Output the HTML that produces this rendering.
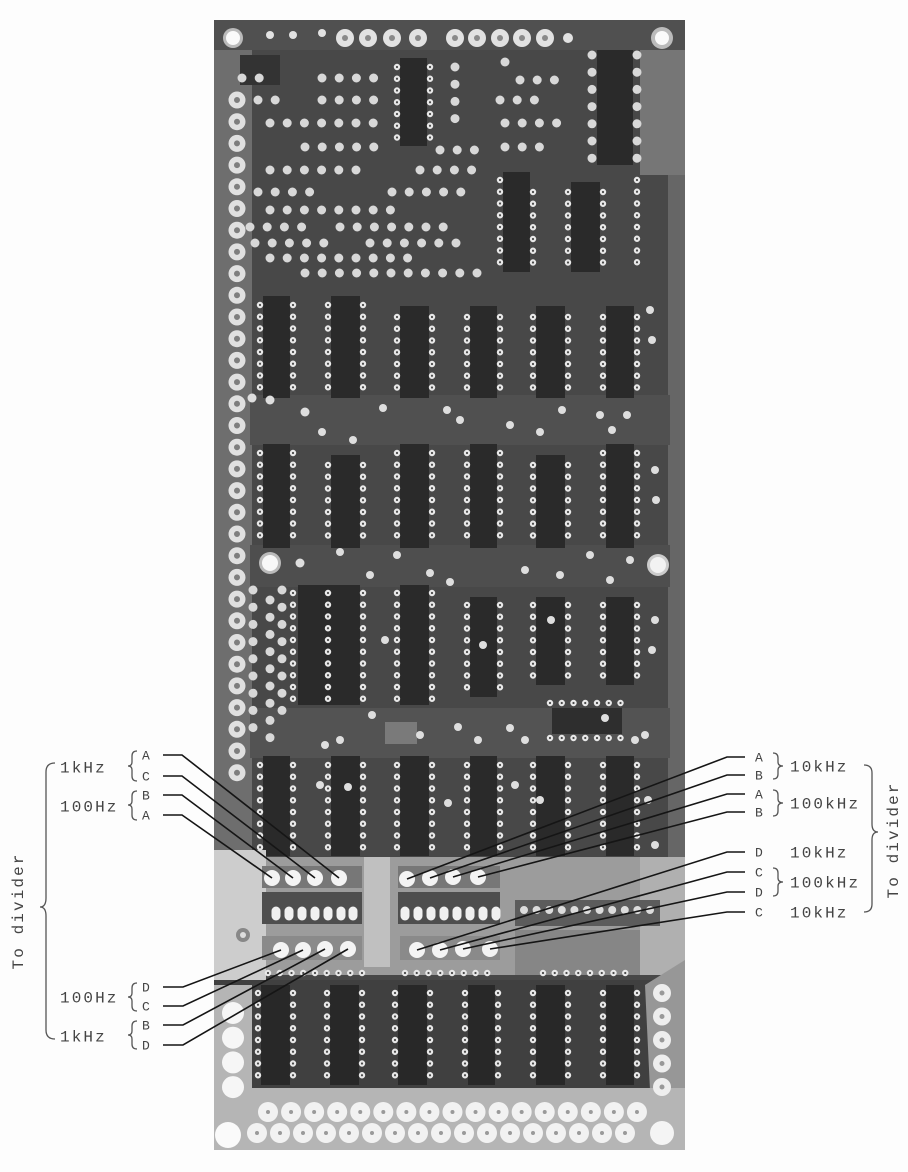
<!DOCTYPE html>
<html><head><meta charset="utf-8"><style>
html,body{margin:0;padding:0;background:#fdfdfd;}
svg{display:block;}
.t{font-family:"Liberation Mono",monospace;font-size:16px;letter-spacing:2.1px;fill:#444;}
.l{font-family:"Liberation Mono",monospace;font-size:13px;fill:#444;}
.ln{fill:none;stroke:#151515;stroke-width:1.6;}
.br{fill:none;stroke:#555;stroke-width:1.3;}
</style></head><body>
<svg width="908" height="1172" viewBox="0 0 908 1172" xmlns="http://www.w3.org/2000/svg">
<defs>
<g id="pins">
<line x1="397" y1="67" x2="397" y2="138"/><line x1="430" y1="67" x2="430" y2="138"/>
<line x1="500" y1="180" x2="500" y2="265"/><line x1="533" y1="192" x2="533" y2="265"/>
<line x1="568" y1="192" x2="568" y2="265"/><line x1="603" y1="192" x2="603" y2="265"/>
<line x1="637" y1="180" x2="637" y2="265"/>
<line x1="260" y1="305" x2="260" y2="390"/><line x1="293" y1="305" x2="293" y2="390"/>
<line x1="328" y1="305" x2="328" y2="390"/><line x1="363" y1="305" x2="363" y2="390"/>
<line x1="397" y1="317" x2="397" y2="390"/><line x1="432" y1="317" x2="432" y2="390"/>
<line x1="467" y1="317" x2="467" y2="390"/><line x1="500" y1="317" x2="500" y2="390"/>
<line x1="533" y1="317" x2="533" y2="390"/><line x1="568" y1="317" x2="568" y2="390"/>
<line x1="603" y1="317" x2="603" y2="390"/><line x1="637" y1="317" x2="637" y2="390"/>
<line x1="260" y1="453" x2="260" y2="540"/><line x1="293" y1="453" x2="293" y2="540"/>
<line x1="328" y1="465" x2="328" y2="540"/><line x1="363" y1="465" x2="363" y2="540"/>
<line x1="397" y1="453" x2="397" y2="540"/><line x1="432" y1="453" x2="432" y2="540"/>
<line x1="467" y1="453" x2="467" y2="540"/><line x1="500" y1="453" x2="500" y2="540"/>
<line x1="533" y1="465" x2="533" y2="540"/><line x1="568" y1="465" x2="568" y2="540"/>
<line x1="603" y1="453" x2="603" y2="540"/><line x1="637" y1="453" x2="637" y2="540"/>
<line x1="293" y1="593" x2="293" y2="700"/><line x1="328" y1="593" x2="328" y2="700"/>
<line x1="363" y1="593" x2="363" y2="700"/><line x1="397" y1="593" x2="397" y2="700"/>
<line x1="432" y1="593" x2="432" y2="710"/><line x1="467" y1="605" x2="467" y2="690"/>
<line x1="500" y1="605" x2="500" y2="690"/><line x1="533" y1="605" x2="533" y2="678"/>
<line x1="568" y1="605" x2="568" y2="678"/><line x1="603" y1="605" x2="603" y2="678"/>
<line x1="637" y1="605" x2="637" y2="678"/>
<line x1="550" y1="703" x2="624" y2="703"/><line x1="550" y1="738" x2="624" y2="738"/>
<line x1="260" y1="765" x2="260" y2="850"/><line x1="293" y1="765" x2="293" y2="850"/>
<line x1="328" y1="765" x2="328" y2="850"/><line x1="363" y1="765" x2="363" y2="850"/>
<line x1="397" y1="765" x2="397" y2="850"/><line x1="432" y1="765" x2="432" y2="850"/>
<line x1="467" y1="765" x2="467" y2="850"/><line x1="500" y1="765" x2="500" y2="850"/>
<line x1="533" y1="765" x2="533" y2="850"/><line x1="568" y1="765" x2="568" y2="850"/>
<line x1="603" y1="765" x2="603" y2="850"/><line x1="637" y1="765" x2="637" y2="850"/>
<line x1="268" y1="973" x2="364" y2="973"/><line x1="405" y1="973" x2="499" y2="973"/>
<line x1="543" y1="973" x2="634" y2="973"/>
<line x1="258" y1="993" x2="258" y2="1080"/><line x1="293" y1="993" x2="293" y2="1080"/>
<line x1="327" y1="993" x2="327" y2="1080"/><line x1="362" y1="993" x2="362" y2="1080"/>
<line x1="395" y1="993" x2="395" y2="1080"/><line x1="430" y1="993" x2="430" y2="1080"/>
<line x1="465" y1="993" x2="465" y2="1080"/><line x1="498" y1="993" x2="498" y2="1080"/>
<line x1="533" y1="993" x2="533" y2="1080"/><line x1="568" y1="993" x2="568" y2="1080"/>
<line x1="603" y1="993" x2="603" y2="1080"/><line x1="637" y1="993" x2="637" y2="1080"/>
</g>
<g id="pads">
<line x1="322" y1="78" x2="375" y2="78"/><line x1="242" y1="78" x2="260" y2="78"/>
<line x1="258" y1="100" x2="290" y2="100"/><line x1="322" y1="100" x2="375" y2="100"/>
<line x1="270" y1="123" x2="375" y2="123"/>
<line x1="305" y1="147" x2="375" y2="147"/><line x1="440" y1="150" x2="480" y2="150"/>
<line x1="270" y1="170" x2="358" y2="170"/><line x1="420" y1="170" x2="472" y2="170"/>
<line x1="258" y1="192" x2="324" y2="192"/><line x1="392" y1="192" x2="472" y2="192"/>
<line x1="270" y1="210" x2="392" y2="210"/>
<line x1="250" y1="227" x2="306" y2="227"/><line x1="340" y1="227" x2="460" y2="227"/>
<line x1="255" y1="243" x2="332" y2="243"/><line x1="370" y1="243" x2="472" y2="243"/>
<line x1="270" y1="258" x2="422" y2="258"/>
<line x1="305" y1="273" x2="482" y2="273"/>
<line x1="505" y1="62" x2="522" y2="62"/><line x1="520" y1="80" x2="558" y2="80"/>
<line x1="500" y1="100" x2="542" y2="100"/><line x1="505" y1="123" x2="558" y2="123"/>
<line x1="505" y1="147" x2="542" y2="147"/>
<line x1="455" y1="67" x2="455" y2="128"/>
<line x1="592" y1="55" x2="592" y2="160"/><line x1="637" y1="55" x2="637" y2="160"/>
<line x1="253" y1="590" x2="253" y2="742"/><line x1="270" y1="600" x2="270" y2="742"/>
<line x1="282" y1="590" x2="282" y2="720"/>
</g>
</defs>

<rect width="908" height="1172" fill="#fdfdfd"/>

<!-- board base -->
<rect x="214" y="20" width="471" height="1130" fill="#484848"/>
<rect x="214" y="20" width="38" height="1130" fill="#6e6e6e"/>
<rect x="668" y="20" width="17" height="1130" fill="#666"/>
<rect x="640" y="45" width="45" height="130" fill="#767676"/>
<rect x="214" y="20" width="471" height="30" fill="#505050"/>
<rect x="250" y="395" width="420" height="50" fill="#505050"/>
<rect x="250" y="545" width="420" height="42" fill="#4e4e4e"/>
<rect x="250" y="708" width="420" height="50" fill="#535353"/>
<rect x="385" y="722" width="32" height="22" fill="#7a7a7a"/>

<!-- dark IC bodies -->
<g fill="#2a2a2a">
<rect x="400" y="58" width="27" height="88"/>
<rect x="503" y="172" width="27" height="100"/><rect x="571" y="182" width="29" height="90"/>
<rect x="597" y="50" width="36" height="115"/>
<rect x="240" y="55" width="40" height="30" fill="#333"/>
<rect x="263" y="296" width="27" height="102"/><rect x="331" y="296" width="29" height="102"/>
<rect x="400" y="306" width="29" height="92"/><rect x="470" y="306" width="27" height="92"/>
<rect x="536" y="306" width="29" height="92"/><rect x="606" y="306" width="28" height="92"/>
<rect x="263" y="444" width="27" height="104"/><rect x="331" y="455" width="29" height="93"/>
<rect x="400" y="444" width="29" height="104"/><rect x="470" y="444" width="27" height="104"/>
<rect x="536" y="455" width="29" height="93"/><rect x="606" y="444" width="28" height="104"/>
<rect x="298" y="585" width="62" height="120"/><rect x="400" y="585" width="29" height="120"/>
<rect x="470" y="597" width="27" height="100"/><rect x="536" y="597" width="29" height="88"/>
<rect x="606" y="597" width="28" height="88"/>
<rect x="552" y="708" width="70" height="26" fill="#2e2e2e"/>
<rect x="263" y="756" width="27" height="100"/><rect x="331" y="756" width="29" height="100"/>
<rect x="400" y="756" width="29" height="100"/><rect x="470" y="756" width="27" height="100"/>
<rect x="536" y="756" width="29" height="100"/><rect x="606" y="756" width="28" height="100"/>
</g>

<!-- light band -->
<rect x="214" y="857" width="471" height="118" fill="#9c9c9c"/>
<rect x="214" y="850" width="52" height="150" fill="#cdcdcd"/>
<rect x="364" y="857" width="26" height="110" fill="#c0c0c0"/>
<rect x="640" y="857" width="45" height="118" fill="#b0b0b0"/>
<rect x="262" y="866" width="100" height="22" fill="#777"/>
<rect x="398" y="866" width="102" height="22" fill="#777"/>
<rect x="262" y="892" width="100" height="32" fill="#4e4e4e"/>
<rect x="398" y="892" width="102" height="32" fill="#4e4e4e"/>
<rect x="515" y="900" width="145" height="26" fill="#5c5c5c"/>
<rect x="262" y="936" width="100" height="24" fill="#8a8a8a"/>
<rect x="400" y="936" width="100" height="24" fill="#8a8a8a"/>
<rect x="515" y="930" width="125" height="45" fill="#868686"/>
<g stroke="#f0f0f0" stroke-width="9" stroke-linecap="round">
<line x1="276" y1="911" x2="276" y2="916"/><line x1="289" y1="911" x2="289" y2="916"/>
<line x1="302" y1="911" x2="302" y2="916"/><line x1="315" y1="911" x2="315" y2="916"/>
<line x1="328" y1="911" x2="328" y2="916"/><line x1="341" y1="911" x2="341" y2="916"/>
<line x1="353" y1="911" x2="353" y2="916"/>
<line x1="405" y1="911" x2="405" y2="916"/><line x1="418" y1="911" x2="418" y2="916"/>
<line x1="431" y1="911" x2="431" y2="916"/><line x1="444" y1="911" x2="444" y2="916"/>
<line x1="457" y1="911" x2="457" y2="916"/><line x1="470" y1="911" x2="470" y2="916"/>
<line x1="483" y1="911" x2="483" y2="916"/><line x1="496" y1="911" x2="496" y2="916"/>
</g>
<g stroke="#dcdcdc" stroke-width="8" stroke-linecap="round" stroke-dasharray="0 12.6" fill="none">
<line x1="524" y1="910" x2="660" y2="910"/>
</g>
<circle cx="243" cy="935" r="7" fill="#888"/><circle cx="243" cy="935" r="3" fill="#ddd"/>
<g fill="#f4f4f4">
<circle cx="272" cy="878" r="8"/><circle cx="293" cy="878" r="8"/><circle cx="315" cy="878" r="8"/><circle cx="339" cy="878" r="8"/>
<circle cx="407" cy="879" r="8"/><circle cx="430" cy="878" r="8"/><circle cx="453" cy="877" r="8"/><circle cx="478" cy="877" r="8"/>
<circle cx="281" cy="950" r="8"/><circle cx="303" cy="950" r="8"/><circle cx="325" cy="949" r="8"/><circle cx="348" cy="949" r="8"/>
<circle cx="417" cy="950" r="8"/><circle cx="440" cy="950" r="8"/><circle cx="463" cy="949" r="8"/><circle cx="490" cy="949" r="8"/>
</g>

<!-- row E region -->
<rect x="214" y="980" width="471" height="108" fill="#404040"/>
<rect x="214" y="985" width="38" height="105" fill="#b5b5b5"/>
<polygon points="645,985 685,960 685,1095 650,1090" fill="#979797"/>
<g fill="#282828">
<rect x="261" y="985" width="29" height="100"/><rect x="330" y="985" width="29" height="100"/>
<rect x="398" y="985" width="29" height="100"/><rect x="468" y="985" width="27" height="100"/>
<rect x="536" y="985" width="29" height="100"/><rect x="606" y="985" width="28" height="100"/>
</g>
<rect x="214" y="1088" width="471" height="62" fill="#b5b5b5"/>

<g fill="none" stroke-linecap="round">
<line x1="237" y1="100" x2="237" y2="792" stroke="#e0e0e0" stroke-width="17" stroke-dasharray="0 21.7"/>
<line x1="237" y1="100" x2="237" y2="792" stroke="#7e7e7e" stroke-width="6" stroke-dasharray="0 21.7"/>
<line x1="233" y1="1013" x2="233" y2="1090" stroke="#f6f6f6" stroke-width="22" stroke-dasharray="0 24.7"/>
<line x1="662" y1="993" x2="662" y2="1090" stroke="#eeeeee" stroke-width="18" stroke-dasharray="0 23.5"/>
<line x1="662" y1="993" x2="662" y2="1090" stroke="#999" stroke-width="5" stroke-dasharray="0 23.5"/>
<line x1="268" y1="1112" x2="638" y2="1112" stroke="#f2f2f2" stroke-width="20" stroke-dasharray="0 23.06"/>
<line x1="257" y1="1133" x2="626" y2="1133" stroke="#f2f2f2" stroke-width="20" stroke-dasharray="0 23"/>
<line x1="268" y1="1112" x2="638" y2="1112" stroke="#9a9a9a" stroke-width="4" stroke-dasharray="0 23.06"/>
<line x1="257" y1="1133" x2="626" y2="1133" stroke="#9a9a9a" stroke-width="4" stroke-dasharray="0 23"/>
</g>

<g fill="#e2e2e2">
<circle cx="345" cy="38" r="9"/><circle cx="368" cy="38" r="9"/><circle cx="392" cy="38" r="9"/>
<circle cx="418" cy="38" r="9"/><circle cx="455" cy="38" r="9"/><circle cx="477" cy="38" r="9"/>
<circle cx="500" cy="38" r="9"/><circle cx="522" cy="38" r="9"/><circle cx="545" cy="38" r="9"/>
<circle cx="270" cy="35" r="4"/><circle cx="293" cy="35" r="4"/><circle cx="322" cy="33" r="4"/><circle cx="568" cy="38" r="5"/>
</g>
<g fill="#8a8a8a">
<circle cx="345" cy="38" r="3"/><circle cx="368" cy="38" r="3"/><circle cx="392" cy="38" r="3"/>
<circle cx="418" cy="38" r="3"/><circle cx="455" cy="38" r="3"/><circle cx="477" cy="38" r="3"/>
<circle cx="500" cy="38" r="3"/><circle cx="522" cy="38" r="3"/><circle cx="545" cy="38" r="3"/>
</g>

<use href="#pads" stroke="#d8d8d8" stroke-width="9" stroke-linecap="round" stroke-dasharray="0 17.2" fill="none"/>
<g fill="#dedede">
<circle cx="252" cy="398" r="4.5"/><circle cx="270" cy="400" r="4.5"/><circle cx="305" cy="412" r="4.5"/>
<circle cx="383" cy="408" r="4"/><circle cx="447" cy="410" r="4"/><circle cx="460" cy="420" r="4"/>
<circle cx="510" cy="425" r="4"/><circle cx="540" cy="432" r="4"/><circle cx="562" cy="410" r="4"/>
<circle cx="600" cy="415" r="4"/><circle cx="612" cy="430" r="4"/><circle cx="627" cy="415" r="4"/>
<circle cx="322" cy="432" r="4"/><circle cx="353" cy="440" r="4"/>
<circle cx="300" cy="563" r="4.5"/><circle cx="340" cy="552" r="4"/><circle cx="370" cy="575" r="4"/>
<circle cx="397" cy="555" r="4"/><circle cx="430" cy="573" r="4"/><circle cx="450" cy="582" r="4"/>
<circle cx="525" cy="570" r="4"/><circle cx="560" cy="575" r="4"/><circle cx="590" cy="555" r="4"/>
<circle cx="610" cy="580" r="4"/><circle cx="630" cy="560" r="4"/>
<circle cx="325" cy="745" r="4"/><circle cx="340" cy="740" r="4"/><circle cx="372" cy="715" r="4"/>
<circle cx="420" cy="735" r="4"/><circle cx="458" cy="727" r="4"/><circle cx="478" cy="740" r="4"/>
<circle cx="510" cy="728" r="4"/><circle cx="525" cy="740" r="4"/><circle cx="605" cy="718" r="4"/>
<circle cx="635" cy="740" r="4"/><circle cx="645" cy="735" r="4"/>
<circle cx="650" cy="310" r="4"/><circle cx="652" cy="340" r="4"/><circle cx="655" cy="470" r="4"/>
<circle cx="656" cy="500" r="4"/><circle cx="655" cy="620" r="4"/><circle cx="652" cy="650" r="4"/>
<circle cx="648" cy="800" r="4"/><circle cx="655" cy="845" r="4"/>
<circle cx="385" cy="640" r="4"/><circle cx="483" cy="645" r="4"/><circle cx="551" cy="620" r="4"/>
<circle cx="320" cy="785" r="4"/><circle cx="348" cy="787" r="4"/><circle cx="448" cy="803" r="4"/>
<circle cx="515" cy="785" r="4"/><circle cx="540" cy="800" r="4"/>
</g>

<use href="#pins" stroke="#e8e8e8" stroke-width="6.4" stroke-linecap="round" stroke-dasharray="0 11.75" fill="none"/>
<use href="#pins" stroke="#4a4a4a" stroke-width="2.2" stroke-linecap="round" stroke-dasharray="0 11.75" fill="none"/>

<g>
<circle cx="233" cy="38" r="10" fill="#bbb"/><circle cx="233" cy="38" r="7" fill="#fafafa"/>
<circle cx="662" cy="38" r="11" fill="#bbb"/><circle cx="662" cy="38" r="7" fill="#fafafa"/>
<circle cx="270" cy="563" r="11" fill="#bbb"/><circle cx="270" cy="563" r="8" fill="#f8f8f8"/>
<circle cx="658" cy="565" r="11" fill="#ccc"/><circle cx="658" cy="565" r="8" fill="#f2f2f2"/>
<circle cx="228" cy="1135" r="13" fill="#fafafa"/>
<circle cx="662" cy="1133" r="12" fill="#f4f4f4"/>
</g>

<!-- annotations -->
<polyline class="ln" points="163,755 182,755 339,878"/>
<polyline class="ln" points="163,776 182,776 315,878"/>
<polyline class="ln" points="163,795 182,795 293,878"/>
<polyline class="ln" points="163,815 182,815 272,878"/>
<polyline class="ln" points="163,987 183,987 281,950"/>
<polyline class="ln" points="163,1006 183,1006 303,950"/>
<polyline class="ln" points="163,1025 183,1025 325,949"/>
<polyline class="ln" points="163,1045 183,1045 348,949"/>
<polyline class="ln" points="745,757 727,757 407,879"/>
<polyline class="ln" points="745,775 727,775 430,878"/>
<polyline class="ln" points="745,794 727,794 453,877"/>
<polyline class="ln" points="745,812 727,812 478,877"/>
<polyline class="ln" points="745,852 727,852 417,950"/>
<polyline class="ln" points="745,872 727,872 440,950"/>
<polyline class="ln" points="745,892 727,892 463,949"/>
<polyline class="ln" points="745,912 727,912 490,949"/>

<path class="br" d="M55,763 Q46,763 46,772 L46,898 Q46,907 40,907 Q46,907 46,916 L46,1030 Q46,1039 55,1039"/>
<path class="br" d="M137,751 Q132,751 132,756 L132,762 Q132,766 128,766 Q132,766 132,770 L132,776 Q132,781 137,781"/>
<path class="br" d="M137,791 Q132,791 132,796 L132,801 Q132,805 128,805 Q132,805 132,809 L132,815 Q132,820 137,820"/>
<path class="br" d="M137,983 Q132,983 132,988 L132,993 Q132,997 128,997 Q132,997 132,1001 L132,1006 Q132,1011 137,1011"/>
<path class="br" d="M137,1021 Q132,1021 132,1026 L132,1031 Q132,1035 128,1035 Q132,1035 132,1039 L132,1044 Q132,1049 137,1049"/>
<path class="br" d="M864,765 Q872,765 872,773 L872,824 Q872,832 878,832 Q872,832 872,840 L872,904 Q872,912 864,912"/>
<path class="br" d="M773,753 Q778,753 778,758 L778,762 Q778,766 783,766 Q778,766 778,770 L778,774 Q778,779 773,779"/>
<path class="br" d="M773,790 Q778,790 778,795 L778,799 Q778,803 783,803 Q778,803 778,807 L778,811 Q778,816 773,816"/>
<path class="br" d="M773,868 Q778,868 778,873 L778,878 Q778,882 783,882 Q778,882 778,886 L778,891 Q778,896 773,896"/>

<text class="t" x="60" y="772.5">1kHz</text>
<text class="t" x="60" y="811.5">100Hz</text>
<text class="t" x="60" y="1002.5">100Hz</text>
<text class="t" x="60" y="1041.5">1kHz</text>
<text class="l" x="142" y="759.5">A</text>
<text class="l" x="142" y="780.5">C</text>
<text class="l" x="142" y="799.5">B</text>
<text class="l" x="142" y="819.5">A</text>
<text class="l" x="142" y="991.5">D</text>
<text class="l" x="142" y="1010.5">C</text>
<text class="l" x="142" y="1029.5">B</text>
<text class="l" x="142" y="1049.5">D</text>
<text class="t" transform="translate(19,911) rotate(-90)" text-anchor="middle" dominant-baseline="central">To divider</text>

<text class="l" x="755" y="761.5">A</text>
<text class="l" x="755" y="779.5">B</text>
<text class="l" x="755" y="798.5">A</text>
<text class="l" x="755" y="816.5">B</text>
<text class="l" x="755" y="856.5">D</text>
<text class="l" x="755" y="876.5">C</text>
<text class="l" x="755" y="896.5">D</text>
<text class="l" x="755" y="916.5">C</text>
<text class="t" x="790" y="771.5">10kHz</text>
<text class="t" x="790" y="808.5">100kHz</text>
<text class="t" x="790" y="857.5">10kHz</text>
<text class="t" x="790" y="887.5">100kHz</text>
<text class="t" x="790" y="917.5">10kHz</text>
<text class="t" transform="translate(894,840) rotate(-90)" text-anchor="middle" dominant-baseline="central">To divider</text>
</svg>
</body></html>
